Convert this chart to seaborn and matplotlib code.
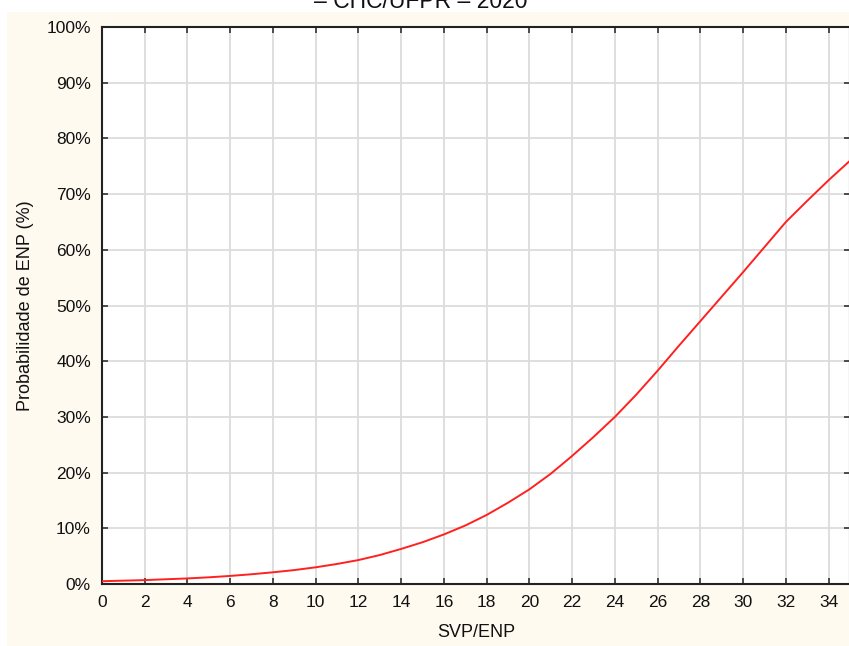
import matplotlib
matplotlib.use("Agg")
import matplotlib.pyplot as plt
import seaborn as sns
import pandas as pd
from matplotlib.patches import Rectangle
from matplotlib.ticker import FuncFormatter

svp_enp = list(range(0, 36))
probabilidade = [0.5, 0.6, 0.7, 0.85, 1.0, 1.2, 1.45, 1.75, 2.1, 2.5,
                 3.0, 3.6, 4.3, 5.2, 6.3, 7.5, 8.9, 10.5, 12.4, 14.6,
                 17.0, 19.8, 23.0, 26.4, 30.0, 34.0, 38.3, 42.8, 47.2, 51.6,
                 56.0, 60.5, 65.0, 68.8, 72.5, 76.0]
x_ticks = list(range(0, 36, 2))
y_ticks = list(range(0, 101, 10))

df = pd.DataFrame({"SVP/ENP": svp_enp, "Probabilidade": probabilidade})

sns.set_style("white")
plt.rcParams["font.family"] = ["Liberation Sans", "DejaVu Sans"]

W, H = 849, 646
fig = plt.figure(figsize=(W / 100, H / 100), dpi=100, facecolor="white")
fig.patches.append(Rectangle((7 / W, 0), 1, (H - 12) / H, transform=fig.transFigure,
                             facecolor="#FEFAF0", edgecolor="none", zorder=-10))

ax = fig.add_axes([102 / W, 1 - 584 / H, (850 - 102) / W, (584 - 27) / H])
ax.set_facecolor("white")

sns.lineplot(data=df, x="SVP/ENP", y="Probabilidade", ax=ax, color="#FF2020",
             linewidth=1.4, zorder=3)

ax.set_xlim(0, 35)
ax.set_ylim(0, 100)
ax.set_xticks(x_ticks)
ax.set_yticks(y_ticks)
ax.yaxis.set_major_formatter(FuncFormatter(lambda v, p: f"{int(v)}%"))
ax.grid(True, color="#DCDCDC", linewidth=1.3)
ax.set_axisbelow(True)

for s in ax.spines.values():
    s.set_color("#222222")
    s.set_linewidth(1.5)

ax.tick_params(axis="both", direction="in", length=4, width=1.2, color="#333333",
               labelsize=12.5, labelcolor="#111111", top=True, right=True, left=True, bottom=True,
               labeltop=False, labelright=False)
ax.tick_params(axis="x", pad=8)
ax.tick_params(axis="y", pad=8)

ax.set_xlabel("SVP/ENP", fontsize=13, color="#111111", labelpad=10)
ax.set_ylabel("Probabilidade de ENP (%)", fontsize=13, color="#111111", labelpad=9)

fig.text(421 / W, 1 - 8 / H, "– CHC/UFPR – 2020", ha="center", va="baseline",
         fontsize=16.5, color="#111111")

fig.savefig("out.png", dpi=100, facecolor=fig.get_facecolor())
